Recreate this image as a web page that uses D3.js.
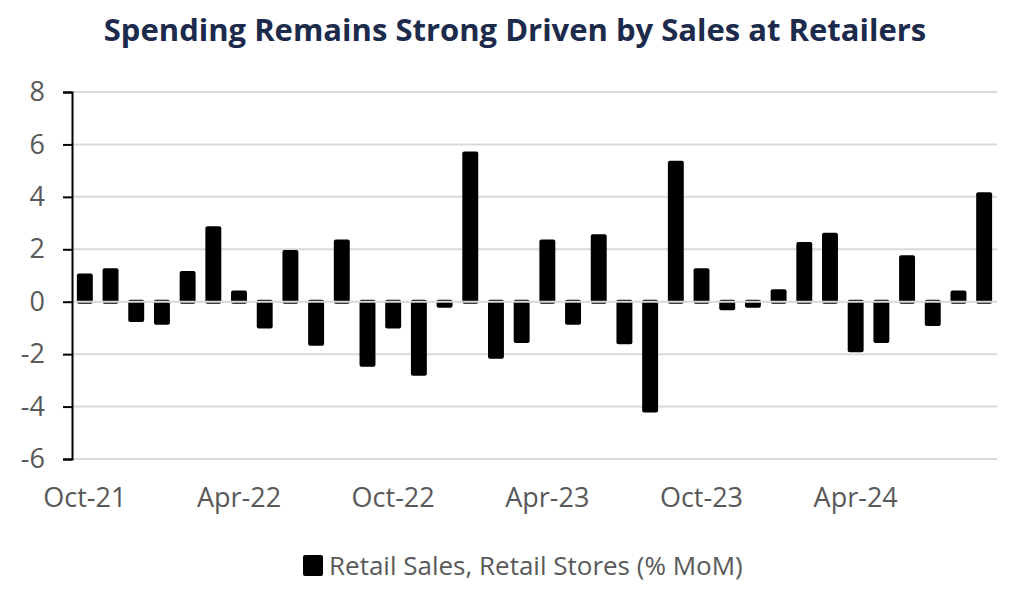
<!DOCTYPE html>
<html><head><meta charset="utf-8">
<script src="https://cdn.jsdelivr.net/npm/d3@7/dist/d3.min.js"></script>
<style>body{margin:0;background:#fff;}svg{display:block;}</style>
</head><body><svg id="c" width="1030" height="609"></svg>
<script>
const months = ["Oct-21","Nov-21","Dec-21","Jan-22","Feb-22","Mar-22","Apr-22","May-22","Jun-22","Jul-22","Aug-22","Sep-22",
"Oct-22","Nov-22","Dec-22","Jan-23","Feb-23","Mar-23","Apr-23","May-23","Jun-23","Jul-23","Aug-23","Sep-23",
"Oct-23","Nov-23","Dec-23","Jan-24","Feb-24","Mar-24","Apr-24","May-24","Jun-24","Jul-24","Aug-24","Sep-24"];
const values = [1.0,1.2,-0.7,-0.8,1.1,2.8,0.35,-0.95,1.9,-1.6,2.3,-2.4,
-0.95,-2.75,-0.15,5.65,-2.1,-1.5,2.3,-0.8,2.5,-1.55,-4.15,5.3,
1.2,-0.25,-0.15,0.4,2.2,2.55,-1.85,-1.5,1.7,-0.85,0.35,4.1];
const xTickLabels = ["Oct-21","Apr-22","Oct-22","Apr-23","Oct-23","Apr-24"];
const yTicks = [-6,-4,-2,0,2,4,6,8];
const title = "Spending Remains Strong Driven by Sales at Retailers";
const seriesName = "Retail Sales, Retail Stores (% MoM)";

const svg = d3.select("#c");
const L = 72, R = 997, T = 92, B = 459;
const FONT = "Open Sans, sans-serif";
const x = d3.scaleBand().domain(months).range([L, R]).paddingInner(0.38).paddingOuter(0.19);
const y = d3.scaleLinear().domain([-6, 8]).range([B, T]);

svg.append("text").attr("x", 515).attr("y", 41).attr("text-anchor", "middle")
  .attr("font-family", FONT).attr("font-weight", 700).attr("font-size", 31)
  .attr("fill", "#1c2a4b").text(title);

// gridlines
svg.append("g").selectAll("line").data(yTicks.filter(d => d !== 0)).join("line")
  .attr("x1", L).attr("x2", R).attr("y1", d => y(d)).attr("y2", d => y(d))
  .attr("stroke", "#d9d9d9").attr("stroke-width", 2);

// bars
svg.append("g").selectAll("rect").data(values).join("rect")
  .attr("x", (d, i) => x(months[i]))
  .attr("width", x.bandwidth())
  .attr("y", d => Math.min(y(d), y(0)) - 2)
  .attr("height", d => Math.abs(y(d) - y(0)) + 4)
  .attr("rx", 2).attr("fill", "#000");

// zero line over bars
svg.append("line").attr("x1", L).attr("x2", R).attr("y1", y(0)).attr("y2", y(0))
  .attr("stroke", "#d9d9d9").attr("stroke-width", 2);

// y axis
const yAxis = svg.append("g").attr("transform", `translate(${L},0)`)
  .call(d3.axisLeft(y).tickValues(yTicks).tickSize(9).tickPadding(18).tickFormat(d => String(d)));
yAxis.select(".domain").attr("stroke", "#000").attr("stroke-width", 2);
yAxis.selectAll(".tick line").attr("stroke", "#000").attr("stroke-width", 2);
yAxis.selectAll("text").attr("font-family", FONT).attr("font-size", 27).attr("fill", "#595959");

// x labels
svg.append("g").selectAll("text").data(xTickLabels).join("text")
  .attr("x", d => x(d) + x.bandwidth() / 2).attr("y", 507)
  .attr("text-anchor", "middle").attr("font-family", FONT).attr("font-size", 27)
  .attr("fill", "#595959").text(d => d);

// legend
const lg = svg.append("g");
lg.append("rect").attr("x", 303).attr("y", 555).attr("width", 20).attr("height", 21).attr("rx", 2).attr("fill", "#000");
lg.append("text").attr("x", 329).attr("y", 575).attr("font-family", FONT).attr("font-size", 26)
  .attr("fill", "#595959").text(seriesName);
</script></body></html>
